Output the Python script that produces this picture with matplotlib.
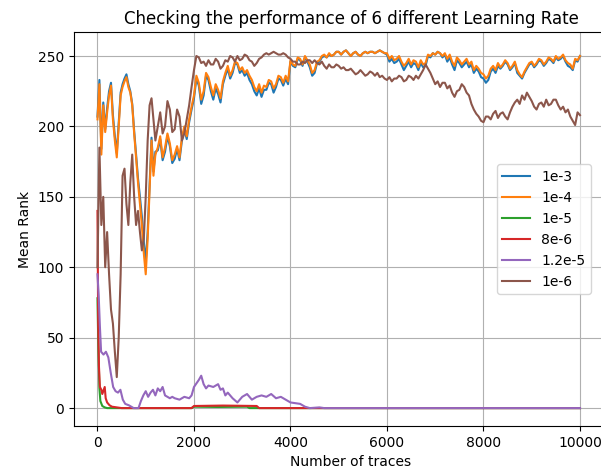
import matplotlib
matplotlib.use('Agg')
import matplotlib.pyplot as plt

# trace counts for the three slow-converging runs: dense start, then every 50
early_x = list(range(0, 1201, 40))
late_x = list(range(1250, 10001, 50))
traces = early_x + late_x

rank_1e4 = [
    205, 230, 180, 215, 196, 210, 222, 229, 205, 190, 178, 200, 222, 228, 232,
    235, 228, 224, 215, 195, 178, 160, 145, 130, 110, 95, 120, 155, 190, 165, 180,
    185, 193, 178, 185, 195, 188, 176, 180, 186, 178,
    192, 200, 193, 205, 214, 222, 236, 231, 219, 225,
    238, 235, 228, 222, 230, 226, 220, 232, 238, 243,
    236, 240, 246, 245, 240, 242, 238, 240, 236, 233,
    228, 225, 230, 224, 229, 228, 233, 232, 227, 230,
    236, 235, 231, 236, 232, 247, 244, 243, 249, 248,
    244, 250, 247, 244, 238, 240, 246, 247, 250, 251,
    249, 252, 250, 251, 253, 253, 251, 253, 254, 252,
    250, 252, 253, 251, 250, 252, 253, 252, 253, 253,
    252, 253, 254, 253, 252, 252, 248, 250, 247, 248,
    250, 246, 243, 245, 248, 244, 247, 246, 242, 247,
    244, 245, 251, 250, 252, 251, 253, 252, 250, 252,
    248, 251, 246, 243, 249, 247, 244, 246, 248, 244,
    246, 240, 243, 241, 238, 237, 234, 236, 241, 243,
    240, 245, 242, 244, 247, 245, 241, 243, 246, 240,
    237, 235, 239, 242, 245, 246, 243, 245, 248, 247,
    244, 246, 249, 248, 246, 250, 248, 249, 251, 247,
    245, 244, 241, 248, 247, 250,
]

rank_1e3 = [
    207, 233, 184, 217, 198, 213, 225, 231, 208, 193, 181, 203, 224, 230, 234,
    237, 230, 225, 216, 197, 180, 163, 150, 136, 118, 104, 125, 158, 192, 168, 182,
    183, 191, 176, 182, 193, 186, 174, 177, 184, 176,
    190, 198, 191, 203, 212, 220, 234, 229, 216, 222,
    236, 233, 225, 219, 227, 223, 217, 230, 236, 241,
    234, 238, 245, 244, 238, 240, 236, 238, 233, 230,
    225, 222, 227, 221, 226, 226, 231, 230, 224, 228,
    234, 233, 229, 234, 230, 246, 243, 242, 248, 247,
    243, 249, 246, 242, 236, 238, 245, 246, 249, 250,
    249, 251, 250, 251, 253, 253, 251, 253, 254, 252,
    250, 252, 253, 251, 250, 252, 253, 252, 253, 253,
    252, 253, 254, 253, 252, 251, 246, 248, 245, 246,
    248, 244, 240, 243, 246, 242, 245, 244, 240, 245,
    242, 243, 250, 249, 252, 251, 253, 252, 249, 251,
    246, 249, 244, 240, 247, 245, 242, 244, 246, 242,
    244, 238, 241, 239, 235, 234, 231, 233, 239, 241,
    238, 243, 241, 243, 246, 244, 240, 242, 245, 238,
    236, 234, 238, 241, 244, 245, 242, 244, 247, 246,
    243, 245, 248, 247, 245, 249, 247, 248, 250, 246,
    243, 242, 240, 247, 246, 250,
]

rank_1e6 = [
    100, 185, 130, 150, 100, 125, 95, 70, 60, 40, 22, 50, 95, 165, 170,
    145, 130, 160, 180, 150, 130, 140, 125, 112, 120, 150, 190, 215, 220, 205, 190,
    200, 210, 195, 200, 218, 212, 196, 198, 212, 207,
    190, 195, 205, 215, 228, 240, 250, 249, 245, 246,
    243, 247, 244, 244, 248, 246, 241, 243, 247, 246,
    250, 249, 246, 250, 247, 248, 251, 250, 247, 246,
    243, 245, 248, 249, 251, 252, 251, 252, 253, 252,
    251, 251, 252, 251, 249, 248, 246, 246, 244, 244,
    246, 245, 247, 247, 245, 247, 245, 244, 246, 243,
    241, 244, 242, 242, 244, 243, 241, 242, 240, 240,
    241, 239, 237, 238, 240, 238, 236, 237, 239, 238,
    236, 238, 235, 236, 234, 233, 235, 232, 234, 234,
    236, 235, 232, 233, 236, 235, 233, 236, 234, 237,
    240, 244, 241, 238, 234, 230, 232, 228, 231, 231,
    227, 229, 224, 221, 225, 226, 230, 228, 224, 222,
    216, 212, 209, 207, 204, 203, 207, 207, 205, 209,
    211, 206, 209, 210, 207, 205, 210, 214, 217, 219,
    216, 222, 219, 224, 221, 218, 214, 212, 216, 217,
    214, 219, 215, 216, 219, 219, 215, 212, 214, 210,
    212, 207, 204, 201, 210, 208,
]

# fast-converging runs
traces_1e5 = [0, 20, 40, 60, 100, 150, 200, 1950, 2000, 2500, 3100, 3150, 10000]
rank_1e5 = [78, 40, 14, 5, 1.5, 0.5, 0, 0, 1, 0.8, 1, 0, 0]

traces_8e6 = [0, 15, 30, 50, 80, 100, 150, 170, 200, 250, 300, 400, 500,
              1950, 2000, 2600, 3300, 3350, 10000]
rank_8e6 = [140, 60, 30, 15, 13, 10, 15, 7, 4, 2, 1, 0.5, 0,
            0, 1.5, 1.8, 1.5, 0, 0]

traces_12e6 = [0, 25, 50, 75, 125, 175, 225, 275, 325, 375, 425, 475, 525, 575,
               650, 750, 850, 900, 950, 1000, 1050, 1100, 1150, 1200, 1250, 1300,
               1350, 1400, 1450, 1500, 1550, 1600, 1700, 1800, 1900, 1950, 2000,
               2100, 2150, 2200, 2250, 2300, 2400, 2500, 2550, 2600, 2650, 2700,
               2800, 2900, 3000, 3100, 3200, 3300, 3400, 3500, 3600, 3700, 3800,
               3900, 4000, 4100, 4200, 4300, 4400, 4600, 4700, 10000]
rank_12e6 = [95, 80, 58, 40, 38, 40, 36, 25, 15, 12, 11, 13, 6, 3,
             2, 0, 0, 5, 9, 12, 8, 11, 13, 9, 14, 12,
             15, 9, 8, 7, 8, 7, 6, 8, 7, 9, 15,
             20, 23, 17, 14, 16, 15, 17, 13, 14, 9, 11,
             7, 4, 8, 10, 6, 8, 9, 8, 10, 7, 8,
             6, 4, 3.5, 3, 1, 0, 0.5, 0, 0]

fig = plt.figure(figsize=(6.01, 4.73), dpi=100)
# axes run past the right edge of the canvas
ax = fig.add_axes([0.1231, 0.0994, 0.9218, 0.8319])

ax.plot(traces, rank_1e3, label='1e-3')
ax.plot(traces, rank_1e4, label='1e-4')
ax.plot(traces_1e5, rank_1e5, label='1e-5')
ax.plot(traces_8e6, rank_8e6, label='8e-6')
ax.plot(traces_12e6, rank_12e6, label='1.2e-5')
ax.plot(traces, rank_1e6, label='1e-6')

ax.set_xlim(-487, 10995)
ax.set_title('Checking the performance of 6 different Learning Rate')
ax.set_xlabel('Number of traces')
ax.set_ylabel('Mean Rank')
ax.grid(True)
ax.legend(loc='center right', bbox_to_anchor=(0.9458, 0.5))

plt.savefig('out.png')
